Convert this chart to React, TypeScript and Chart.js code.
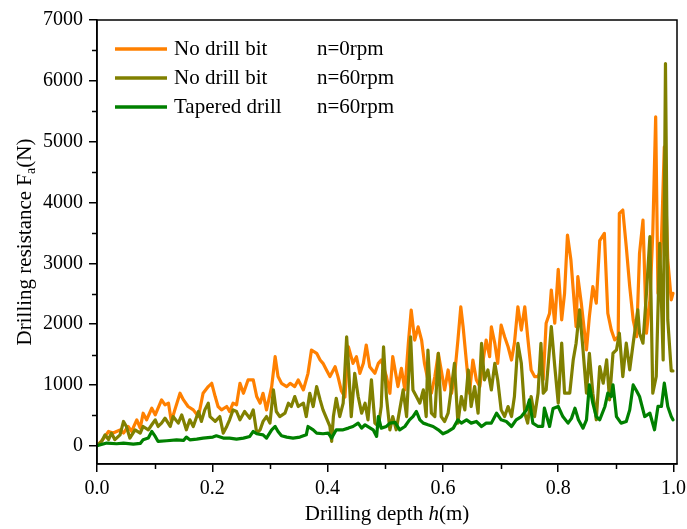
import React, { useEffect, useRef } from "react";
import { Chart, registerables } from "chart.js";

Chart.register(...registerables);

// ---------- data ----------
const depthNoBit0 = [
  0, 0.01, 0.02, 0.028, 0.04, 0.046, 0.054, 0.06, 0.069, 0.075, 0.08, 0.086, 0.095, 0.101, 0.112, 0.118, 0.124, 0.129,
  0.135, 0.144, 0.15, 0.158, 0.167, 0.176, 0.184, 0.193, 0.199, 0.205, 0.21, 0.216, 0.225, 0.23, 0.236, 0.242, 0.248,
  0.254, 0.262, 0.271, 0.277, 0.283, 0.288, 0.294, 0.303, 0.309, 0.314, 0.32, 0.329, 0.335, 0.343, 0.349, 0.358, 0.366,
  0.372, 0.381, 0.387, 0.392, 0.398, 0.404, 0.413, 0.418, 0.424, 0.43, 0.436, 0.444, 0.45, 0.456, 0.462, 0.467, 0.473,
  0.482, 0.488, 0.493, 0.502, 0.508, 0.513, 0.519, 0.522, 0.528, 0.534, 0.54, 0.545, 0.551, 0.557, 0.563, 0.568, 0.574,
  0.58, 0.586, 0.592, 0.597, 0.603, 0.609, 0.615, 0.62, 0.626, 0.631, 0.635, 0.641, 0.646, 0.652, 0.658, 0.664, 0.669,
  0.675, 0.681, 0.684, 0.69, 0.695, 0.701, 0.707, 0.713, 0.719, 0.724, 0.73, 0.736, 0.742, 0.747, 0.753, 0.759, 0.765,
  0.77, 0.774, 0.779, 0.785, 0.788, 0.794, 0.8, 0.806, 0.811, 0.816, 0.822, 0.826, 0.831, 0.834, 0.84, 0.849, 0.854,
  0.86, 0.866, 0.872, 0.88, 0.886, 0.892, 0.898, 0.904, 0.906, 0.912, 0.918, 0.924, 0.93, 0.936, 0.941, 0.947, 0.953,
  0.959, 0.964, 0.969, 0.973, 0.979, 0.984, 0.99, 0.996, 0.999,
];
const forceNoBit0 = [
  0, 100, 235, 210, 260, 210, 317, 235, 426, 290, 535, 426, 617, 508, 754, 672, 700, 400,
  590, 863, 754, 645, 590, 480, 863, 973, 1027, 809, 645, 590, 645, 563, 700, 672, 1027,
  863, 1082, 1082, 809, 700, 863, 590, 973, 1464, 1137, 1027, 973, 1027, 973, 1082, 918, 1191,
  1574, 1519, 1410, 1355, 1246, 1137, 1300, 1137, 900, 800, 1628, 1355, 1464, 1191, 1355, 1656, 1300,
  1191, 1355, 1410, 1137, 863, 1464, 1137, 973, 1273, 918, 1683, 2230, 1738, 1956, 1738, 1355, 1082,
  863, 1137, 1519, 1246, 918, 1246, 863, 1137, 1738, 2284, 1956, 1355, 863, 1410, 1082, 973, 1355,
  1738, 1464, 1956, 1683, 1355, 1984, 1792, 1628, 1410, 1683, 2284, 1902, 2284, 1792, 1246, 1137, 1137,
  1246, 1090, 2014, 2180, 2561, 2014, 2900, 2070, 2507, 3465, 3054, 2561, 1960, 2780, 2343, 1576, 2124,
  2616, 2343, 3373, 3492, 2179, 1905, 1740, 1795, 3820, 3875, 3273, 2616, 2070, 1795, 3163, 3711, 1850,
  2397, 3492, 5408, 2507, 3373, 4915, 3054, 2397, 2507,
];

const depthNoBit60 = [
  0, 0.008, 0.014, 0.02, 0.025, 0.031, 0.04, 0.046, 0.051, 0.057, 0.066, 0.075, 0.08, 0.089, 0.095, 0.101, 0.106, 0.112,
  0.118, 0.127, 0.132, 0.141, 0.147, 0.155, 0.161, 0.167, 0.176, 0.181, 0.187, 0.193, 0.196, 0.205, 0.213, 0.219, 0.225,
  0.23, 0.236, 0.242, 0.248, 0.256, 0.265, 0.271, 0.277, 0.283, 0.288, 0.294, 0.3, 0.306, 0.311, 0.317, 0.326, 0.332,
  0.337, 0.343, 0.349, 0.358, 0.363, 0.369, 0.375, 0.381, 0.387, 0.392, 0.398, 0.404, 0.407, 0.41, 0.415, 0.421, 0.427,
  0.433, 0.436, 0.441, 0.447, 0.453, 0.459, 0.465, 0.47, 0.476, 0.482, 0.488, 0.493, 0.497, 0.502, 0.508, 0.513, 0.519,
  0.525, 0.531, 0.537, 0.544, 0.548, 0.554, 0.56, 0.566, 0.571, 0.574, 0.58, 0.586, 0.592, 0.597, 0.603, 0.609, 0.615,
  0.62, 0.626, 0.632, 0.638, 0.644, 0.649, 0.655, 0.661, 0.667, 0.672, 0.678, 0.684, 0.69, 0.695, 0.701, 0.707, 0.713,
  0.719, 0.724, 0.73, 0.736, 0.742, 0.747, 0.753, 0.759, 0.765, 0.77, 0.774, 0.779, 0.788, 0.794, 0.8, 0.806, 0.811,
  0.82, 0.826, 0.831, 0.837, 0.843, 0.849, 0.854, 0.86, 0.866, 0.872, 0.878, 0.884, 0.889, 0.895, 0.901, 0.906, 0.912,
  0.918, 0.924, 0.93, 0.938, 0.941, 0.947, 0.953, 0.959, 0.964, 0.97, 0.976, 0.982, 0.986, 0.99, 0.996, 0.999,
];
const forceNoBit60 = [
  0, 71, 180, 100, 208, 100, 180, 400, 317, 126, 262, 208, 317, 262, 345, 426, 317, 372,
  453, 317, 480, 372, 508, 262, 426, 317, 563, 400, 590, 700, 480, 400, 480, 208, 317,
  426, 590, 563, 426, 563, 453, 590, 208, 262, 400, 480, 372, 918, 563, 480, 535, 700,
  645, 809, 645, 700, 480, 863, 645, 973, 754, 590, 453, 317, 71, 480, 781, 480, 700,
  1792, 1355, 480, 1191, 809, 535, 700, 426, 1082, 372, 317, 645, 1628, 809, 262, 480, 262,
  590, 918, 480, 1792, 918, 809, 700, 918, 480, 1574, 535, 480, 1519, 480, 399, 535, 973,
  1355, 372, 809, 590, 1246, 645, 973, 535, 1683, 1082, 1246, 918, 1355, 1082, 590, 480, 645,
  480, 809, 1683, 1355, 535, 372, 809, 480, 863, 1683, 865, 920, 1960, 1303, 700, 1686, 865,
  865, 1412, 1686, 2233, 1576, 865, 1521, 865, 427, 1303, 1029, 1412, 755, 1521, 1576, 1850, 1138,
  1686, 1248, 1686, 2233, 1850, 1686, 2507, 3437, 865, 1138, 3327, 1412, 6283, 2069, 1231, 1231,
];

const depthTapered60 = [
  0, 0.017, 0.034, 0.046, 0.063, 0.075, 0.08, 0.089, 0.095, 0.101, 0.106, 0.121, 0.138, 0.15, 0.155, 0.161, 0.173, 0.184,
  0.201, 0.207, 0.219, 0.23, 0.242, 0.254, 0.265, 0.271, 0.277, 0.288, 0.294, 0.303, 0.309, 0.314, 0.32, 0.329, 0.34,
  0.352, 0.363, 0.366, 0.375, 0.381, 0.392, 0.401, 0.407, 0.415, 0.427, 0.436, 0.444, 0.453, 0.459, 0.465, 0.479, 0.485,
  0.488, 0.493, 0.502, 0.508, 0.517, 0.525, 0.534, 0.542, 0.548, 0.554, 0.56, 0.566, 0.574, 0.583, 0.592, 0.6, 0.609,
  0.618, 0.626, 0.632, 0.641, 0.649, 0.658, 0.667, 0.675, 0.684, 0.693, 0.701, 0.71, 0.719, 0.727, 0.736, 0.745, 0.75,
  0.756, 0.765, 0.773, 0.776, 0.785, 0.791, 0.8, 0.808, 0.817, 0.823, 0.829, 0.835, 0.843, 0.849, 0.854, 0.86, 0.866,
  0.872, 0.881, 0.886, 0.892, 0.895, 0.901, 0.909, 0.918, 0.924, 0.93, 0.936, 0.941, 0.95, 0.959, 0.967, 0.973, 0.979,
  0.984, 0.99, 0.996, 0.999,
];
const forceTapered60 = [
  0, 44, 33, 44, 27, 38, 98, 126, 235, 153, 71, 82, 98, 87, 142, 98, 109, 126,
  142, 164, 126, 126, 109, 126, 153, 235, 197, 180, 126, 262, 317, 235, 164, 142, 126,
  142, 180, 317, 262, 208, 197, 208, 126, 262, 262, 290, 317, 372, 290, 345, 262, 153,
  480, 290, 317, 372, 383, 262, 317, 426, 480, 563, 426, 372, 345, 317, 262, 197, 235,
  290, 426, 372, 426, 372, 399, 317, 372, 372, 535, 426, 399, 317, 426, 480, 590, 754,
  372, 317, 317, 618, 317, 612, 646, 480, 372, 450, 618, 427, 290, 427, 1000, 700, 480,
  427, 646, 865, 810, 1000, 480, 372, 400, 590, 1000, 900, 810, 480, 535, 262, 646, 646,
  1029, 646, 480, 427,
];

const seriesNames = ["No drill bit", "No drill bit", "Tapered drill"];
const seriesSpeeds = ["n=0rpm", "n=60rpm", "n=60rpm"];
const seriesColors = ["#FF8000", "#808000", "#008000"];

const yMajorTicks = [0, 1000, 2000, 3000, 4000, 5000, 6000, 7000];
const yMinorTicks = [500, 1500, 2500, 3500, 4500, 5500, 6500];
const xMajorTicks = [0, 0.2, 0.4, 0.6, 0.8, 1.0];
const xMinorTicks = [0.1, 0.3, 0.5, 0.7, 0.9];

const FONT = "'Liberation Serif', 'Times New Roman', serif";

const decorPlugin = {
  id: "decor",
  afterDraw(chart: any) {
    const { ctx, chartArea } = chart;
    const { left, right, top, bottom } = chartArea;
    const xs = chart.scales.x;
    const ys = chart.scales.y;
    ctx.save();
    // frame
    ctx.strokeStyle = "#000";
    ctx.lineWidth = 1.5;
    ctx.strokeRect(left, top, right - left, bottom - top);
    // minor ticks
    ctx.beginPath();
    yMinorTicks.forEach((v) => {
      const py = Math.round(ys.getPixelForValue(v)) + 0.5;
      ctx.moveTo(left, py);
      ctx.lineTo(left - 5, py);
    });
    xMinorTicks.forEach((v) => {
      const px = Math.round(xs.getPixelForValue(v)) + 0.5;
      ctx.moveTo(px, bottom);
      ctx.lineTo(px, bottom + 5);
    });
    ctx.stroke();

    ctx.fillStyle = "#000";
    ctx.textBaseline = "middle";
    // x title
    {
      const f1 = `21px ${FONT}`;
      const f2 = `italic 21px ${FONT}`;
      const a = "Drilling depth ";
      const b = "h";
      const c = "(m)";
      ctx.font = f1;
      const wa = ctx.measureText(a).width;
      const wc = ctx.measureText(c).width;
      ctx.font = f2;
      const wb = ctx.measureText(b).width;
      const total = wa + wb + wc;
      const x0 = (left + right) / 2 - total / 2;
      const y0 = 514;
      ctx.textAlign = "left";
      ctx.font = f1;
      ctx.fillText(a, x0, y0);
      ctx.font = f2;
      ctx.fillText(b, x0 + wa, y0);
      ctx.font = f1;
      ctx.fillText(c, x0 + wa + wb, y0);
    }
    // y title
    {
      const f1 = `21px ${FONT}`;
      const fs = `14px ${FONT}`;
      const a = "Drilling resistance F";
      const b = "a";
      const c = "(N)";
      ctx.font = f1;
      const wa = ctx.measureText(a).width;
      const wc = ctx.measureText(c).width;
      ctx.font = fs;
      const wb = ctx.measureText(b).width;
      const total = wa + wb + wc;
      ctx.translate(25, (top + bottom) / 2);
      ctx.rotate(-Math.PI / 2);
      ctx.textAlign = "left";
      const x0 = -total / 2;
      ctx.font = f1;
      ctx.fillText(a, x0, 0);
      ctx.font = fs;
      ctx.fillText(b, x0 + wa, 6);
      ctx.font = f1;
      ctx.fillText(c, x0 + wa + wb, 0);
    }
    ctx.restore();

    // legend
    ctx.save();
    ctx.textBaseline = "middle";
    ctx.textAlign = "left";
    ctx.font = `21px ${FONT}`;
    seriesNames.forEach((name, i) => {
      const y = top + 29 + i * 29;
      ctx.strokeStyle = seriesColors[i];
      ctx.lineWidth = 3.5;
      ctx.beginPath();
      ctx.moveTo(left + 18, y);
      ctx.lineTo(left + 70, y);
      ctx.stroke();
      ctx.fillStyle = "#000";
      ctx.fillText(name, left + 77, y);
      ctx.fillText(seriesSpeeds[i], left + 220, y);
    });
    ctx.restore();
  },
};

function toPoints(xs: number[], ys: number[]) {
  return xs.map((x, i) => ({ x, y: ys[i] }));
}

function makeDataset(i: number, xs: number[], ys: number[], order: number) {
  return {
    label: seriesNames[i] + " " + seriesSpeeds[i],
    data: toPoints(xs, ys),
    borderColor: seriesColors[i],
    backgroundColor: seriesColors[i],
    borderWidth: 3.2,
    borderJoinStyle: "round" as const,
    borderCapStyle: "round" as const,
    pointRadius: 0,
    tension: 0,
    order,
  };
}

export default function App() {
  const ref = useRef<HTMLCanvasElement | null>(null);
  useEffect(() => {
    document.body.style.margin = "0";
    const canvas = ref.current!;
    const chart = new Chart(canvas, {
      type: "line",
      data: {
        datasets: [
          makeDataset(0, depthNoBit0, forceNoBit0, 3),
          makeDataset(1, depthNoBit60, forceNoBit60, 2),
          makeDataset(2, depthTapered60, forceTapered60, 1),
        ],
      },
      options: {
        responsive: false,
        animation: false,
        layout: { padding: { left: 0, top: 20, right: 10, bottom: 0 } },
        plugins: { legend: { display: false }, tooltip: { enabled: false } },
        scales: {
          x: {
            type: "linear",
            min: 0,
            max: 1.006,
            afterBuildTicks: (scale: any) => {
              scale.ticks = xMajorTicks.map((v) => ({ value: v }));
            },
            afterFit: (scale: any) => {
              scale.height = 65;
              scale.paddingLeft = 0;
              scale.paddingRight = 0;
            },
            ticks: {
              color: "#000",
              font: { family: FONT, size: 20 },
              padding: 5,
              maxRotation: 0,
              callback: (v: any) => Number(v).toFixed(1),
            },
            grid: { drawOnChartArea: false, drawTicks: true, tickLength: 8, color: "#000", lineWidth: 1.5 },
            border: { display: true, color: "#000", width: 1.5 },
          },
          y: {
            type: "linear",
            min: -300,
            max: 7000,
            afterBuildTicks: (scale: any) => {
              scale.ticks = yMajorTicks.map((v) => ({ value: v }));
            },
            afterFit: (scale: any) => {
              scale.width = 97;
              scale.paddingTop = 0;
              scale.paddingBottom = 0;
            },
            ticks: {
              color: "#000",
              font: { family: FONT, size: 20 },
              padding: 6,
              callback: (v: any) => String(v),
            },
            grid: { drawOnChartArea: false, drawTicks: true, tickLength: 8, color: "#000", lineWidth: 1.5 },
            border: { display: true, color: "#000", width: 1.5 },
          },
        },
      },
      plugins: [decorPlugin],
    });
    return () => chart.destroy();
  }, []);
  return (
    <div style={{ width: 687, height: 529, background: "#fff" }}>
      <canvas ref={ref} width={687} height={529} style={{ display: "block" }} />
    </div>
  );
}
